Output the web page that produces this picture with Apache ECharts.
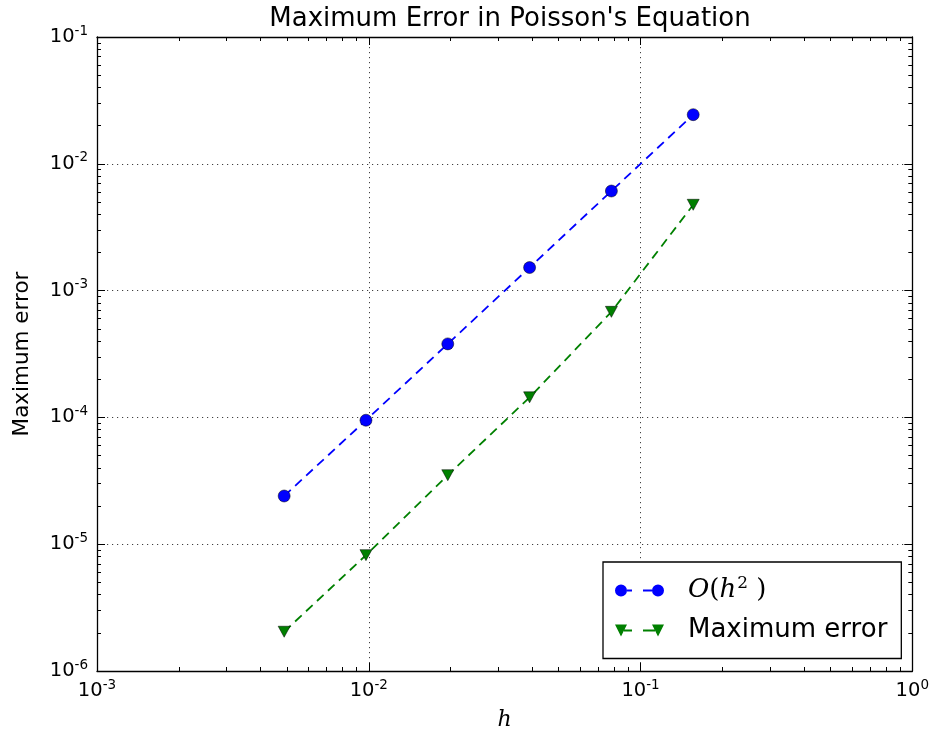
<!DOCTYPE html>
<html>
<head>
<meta charset="utf-8">
<script src="https://cdn.jsdelivr.net/npm/echarts@6/dist/echarts.min.js"></script>
<style>
  html, body { margin: 0; padding: 0; background: #fff; }
  #chart { width: 932px; height: 737px; }
</style>
</head>
<body>
<div id="chart"></div>
<script>
// Grid spacing h and the two error curves
const hValues = [0.0048828125, 0.009765625, 0.01953125, 0.0390625, 0.078125, 0.15625];
const orderH2 = [2.4e-5, 9.5e-5, 3.8e-4, 1.52e-3, 6.1e-3, 0.0244];
const maxError = [2.04e-6, 8.2e-6, 3.5e-5, 1.44e-4, 6.8e-4, 4.75e-3];

// Decade ticks for both log axes
const xDecades = [1e-3, 1e-2, 1e-1, 1];
const yDecades = [1e-6, 1e-5, 1e-4, 1e-3, 1e-2, 1e-1];

const seriesNames = ['O(h²)', 'Maximum error'];
const titleText = "Maximum Error in Poisson's Equation";
const xName = 'h';
const yName = 'Maximum error';

// 2..9 multiples inside each decade (minor ticks)
function minorTicks(decades) {
  const out = [];
  for (let i = 0; i < decades.length - 1; i++) {
    for (let m = 2; m <= 9; m++) out.push(+(decades[i] * m).toPrecision(6));
  }
  return out;
}

const FONT = 'DejaVu Sans';
const labelRich = {
  b: { fontFamily: FONT, fontSize: 19.5, color: '#000' },
  s: { fontFamily: FONT, fontSize: 13.5, color: '#000', padding: [0, 0, 12, 0] }
};
function powLabel(v) {
  const e = Math.round(Math.log10(v));
  return '{b|10}{s|' + e + '}';
}

const frameLine = { show: true, lineStyle: { color: '#000', width: 1.3 } };
const gridLine = { show: true, lineStyle: { color: '#000', width: 1, type: [1.2, 3.8], opacity: 0.75 } };

function makeAxis(kind, position, decades, opts) {
  const isMinor = opts.minor;
  const ax = {
    type: 'log',
    logBase: 10,
    min: decades[0],
    max: decades[decades.length - 1],
    position: position,
    gridIndex: 0,
    axisLine: isMinor ? { show: false } : frameLine,
    axisTick: {
      show: true,
      inside: true,
      length: isMinor ? 4 : 8,
      lineStyle: { color: '#000', width: 1 },
      customValues: isMinor ? minorTicks(decades) : decades
    },
    axisLabel: { show: false },
    splitLine: { show: false },
    minorTick: { show: false },
    minorSplitLine: { show: false }
  };
  if (opts.main) {
    ax.axisLabel = {
      show: true,
      customValues: decades,
      formatter: powLabel,
      rich: labelRich,
      margin: kind === 'x' ? 7 : 9
    };
    ax.splitLine = gridLine;
    ax.name = opts.name;
    ax.nameLocation = 'middle';
    ax.nameGap = opts.nameGap;
    ax.nameTextStyle = opts.nameStyle;
  }
  return ax;
}

const xAxes = [
  makeAxis('x', 'bottom', xDecades, { main: true, name: xName, nameGap: 38,
    nameStyle: { fontFamily: 'DejaVu Serif', fontStyle: 'italic', fontSize: 22, color: '#000' } }),
  makeAxis('x', 'bottom', xDecades, { minor: true }),
  makeAxis('x', 'top', xDecades, {}),
  makeAxis('x', 'top', xDecades, { minor: true })
];
const yAxes = [
  makeAxis('y', 'left', yDecades, { main: true, name: yName, nameGap: 64,
    nameStyle: { fontFamily: FONT, fontSize: 21.5, color: '#000' } }),
  makeAxis('y', 'left', yDecades, { minor: true }),
  makeAxis('y', 'right', yDecades, {}),
  makeAxis('y', 'right', yDecades, { minor: true })
];

const pairs = (xs, ys) => xs.map((x, i) => [x, ys[i]]);

// Legend icons: two markers joined by a dashed segment
const circleIcon = 'path://M0,6A6,6 0 1,0 12,6A6,6 0 1,0 0,6Z' +
  'M12,5.1H17V6.9H12Z M28,5.1H37V6.9H28Z' +
  'M37,6A6,6 0 1,0 49,6A6,6 0 1,0 37,6Z';
const triIcon = 'path://M0,0H12L6,12Z' +
  'M9,5.1H17V6.9H9Z M28,5.1H40V6.9H28Z' +
  'M37,0H49L43,12Z';

const option = {
  animation: false,
  backgroundColor: '#fff',
  title: {
    text: titleText,
    left: 505,
    top: 1,
    textAlign: 'center',
    textStyle: { fontFamily: FONT, fontSize: 26, fontWeight: 'normal', color: '#000' }
  },
  grid: { left: 97, top: 37, width: 816, height: 634, containLabel: false },
  xAxis: xAxes,
  yAxis: yAxes,
  legend: {
    orient: 'vertical',
    left: 603,
    top: 562,
    padding: [13, 14, 13, 12],
    itemGap: 10,
    itemWidth: 49,
    itemHeight: 12,
    borderColor: '#000',
    borderWidth: 1.3,
    backgroundColor: '#fff',
    itemStyle: { borderWidth: 0 },
    lineStyle: { width: 0 },
    data: [
      { name: seriesNames[0], icon: circleIcon },
      { name: seriesNames[1], icon: triIcon }
    ],
    formatter: function (name) {
      if (name === seriesNames[0]) return '{o|O}{p|(}{h|h}{sup|2}{p| )}';
      return '{t|' + name + '}';
    },
    textStyle: {
      padding: [0, 0, 0, 19],
      lineHeight: 30,
      rich: {
        t: { fontFamily: FONT, fontSize: 26, color: '#000', lineHeight: 30 },
        o: { fontFamily: 'DejaVu Serif', fontStyle: 'italic', fontSize: 26, color: '#000', lineHeight: 30 },
        p: { fontFamily: 'DejaVu Serif', fontSize: 26, color: '#000', lineHeight: 30 },
        h: { fontFamily: 'DejaVu Serif', fontStyle: 'italic', fontSize: 26, color: '#000', lineHeight: 30 },
        sup: { fontFamily: 'DejaVu Serif', fontSize: 17, color: '#000', padding: [0, 0, 14, 1] }
      }
    }
  },
  series: [
    {
      name: seriesNames[0],
      type: 'line',
      xAxisIndex: 0,
      yAxisIndex: 0,
      data: pairs(hValues, orderH2),
      symbol: 'circle',
      symbolSize: 12,
      itemStyle: { color: '#0000ff', borderColor: '#000', borderWidth: 0.5 },
      lineStyle: { color: '#0000ff', width: 1.8, type: [9, 6] },
      z: 3
    },
    {
      name: seriesNames[1],
      type: 'line',
      xAxisIndex: 0,
      yAxisIndex: 0,
      data: pairs(hValues, maxError),
      symbol: 'triangle',
      symbolRotate: 180,
      symbolSize: [12, 11],
      itemStyle: { color: '#008000', borderColor: '#000', borderWidth: 0.5 },
      lineStyle: { color: '#008000', width: 1.8, type: [9, 6] },
      z: 3
    }
  ]
};

const chart = echarts.init(document.getElementById('chart'), null, { renderer: 'canvas' });
chart.setOption(option);
</script>
</body>
</html>
